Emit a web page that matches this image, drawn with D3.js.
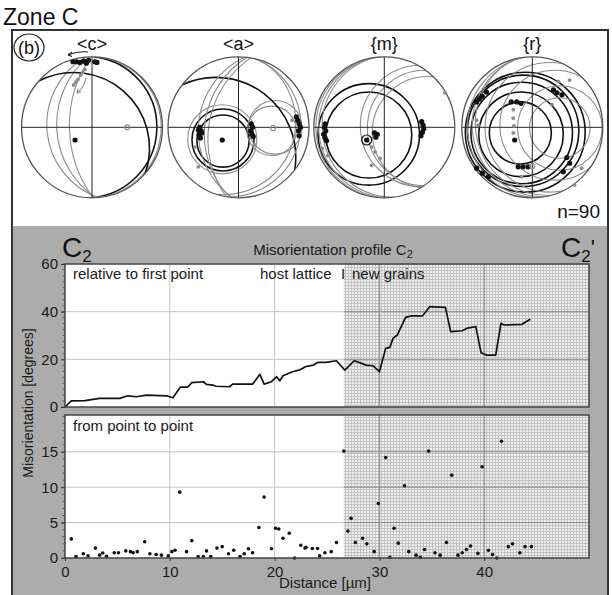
<!DOCTYPE html>
<html><head><meta charset="utf-8">
<script src="https://cdn.jsdelivr.net/npm/d3@7"></script>
<style>
html,body{margin:0;padding:0;background:#fff;}
svg{display:block;font-family:"Liberation Sans",Arial,sans-serif;}
</style></head>
<body>
<svg id="chart" width="612" height="595"></svg>
<script>
// ---------- DATA ----------
// misorientation relative to first point (distance µm, degrees)
const profDist = [0,0.6,1.9,3.3,5.2,6.0,6.8,7.8,9.7,10.3,11.0,11.7,12.1,13.2,13.5,14.1,14.4,15.7,16.0,17.9,18.6,19.0,19.7,20.2,20.5,20.8,21.7,22.4,23.0,23.7,24.1,24.9,25.9,26.7,27.6,28.3,28.7,29.4,30.0,30.6,31.0,31.3,31.7,32.5,33.0,34.1,34.8,36.3,36.8,37.9,38.4,39.2,39.7,40.2,41.1,41.6,41.9,43.6,44.4];
const profMis  = [0,2.6,2.7,3.6,3.6,4.7,4.3,5.0,4.7,3.9,8.3,8.3,10.2,10.6,9.5,9.2,8.7,8.5,9.6,9.6,13.7,9.6,10.6,12.7,11.0,13.1,14.8,15.6,17.0,17.6,18.7,18.7,19.4,15.5,19.4,18.3,17.6,17.3,14.8,24.6,25.0,28.8,30.2,37.6,38.2,38.2,42.1,41.8,31.6,32.0,33.1,33.7,22.8,21.8,21.8,35.1,34.4,34.7,36.8];
// misorientation from point to point
const ptDist = [0.6,1.05,1.75,2.2,2.9,3.3,3.6,3.96,4.7,5.1,5.8,6.25,6.5,6.9,7.6,8.1,8.7,9.2,9.85,10.2,10.5,10.95,11.6,12.1,12.7,13.2,13.5,13.9,14.5,15.0,15.6,16.1,16.7,17.1,17.5,17.9,18.5,19.0,19.7,20.1,20.4,20.8,21.4,21.9,22.5,22.9,23.0,23.6,24.1,24.3,24.8,25.4,25.9,26.6,27.0,27.3,27.7,28.4,28.8,29.5,29.9,30.6,31.0,31.4,31.8,32.4,32.8,33.5,33.9,34.3,34.7,35.3,35.8,36.4,36.9,37.5,37.9,38.3,38.7,39.4,39.8,40.4,40.8,41.2,41.65,42.3,42.7,43.4,43.9,44.5];
const ptMis  = [2.7,0.2,0.6,0.3,1.4,0.4,0.7,0.25,0.75,0.75,1.0,0.9,0.75,0.9,2.3,0.6,0.5,0.4,0.3,0.9,1.1,9.3,0.9,2.45,0.2,0.2,1.0,0.2,1.4,1.6,0.6,1.1,0.2,0.6,1.3,0.75,4.3,8.6,1.3,4.2,4.1,2.8,3.5,0.0,1.8,1.4,1.5,1.35,1.35,0.3,0.75,0.9,2.2,15.1,3.8,5.6,2.2,2.8,2.0,0.9,7.7,14.2,0.1,4.2,2.1,10.2,0.9,0.4,0.1,1.2,15.1,0.75,0.4,2.2,11.7,0.4,0.75,1.2,1.7,0.65,12.9,1.1,0.5,0.0,16.5,1.6,2.0,0.75,1.6,1.6];
const newGrainStart = 26.6;
const xTicks = [0,10,20,30,40];
const yTicksTop = [0,20,40,60];
const yTicksBot = [0,5,10,15];

// pole figures (unit-circle coordinates)
const netLabels = ["<c>","<a>","{m}","{r}"];
// great circles: [strike angle deg, signed bulge, colour]
const gcC = [[-88,0.92,"k"],[-86,0.98,"g"],[-95,-0.64,"g"],[-93,-0.5,"g"],[-91,-0.32,"g"],[-139,0.68,"k"]];
const gcA = [[-143,0.6,"k"],[-85,-0.57,"g"],[-83,-0.48,"g"],[-80,-0.42,"g"],[-78,0.88,"g"],[-72,0.8,"g"]];
const gcM = [[-95,-0.93,"g"],[-98,-0.88,"g"],[-92,-0.97,"g"]];
const gcR = [[-100,-0.85,"g"],[-95,-0.92,"g"],[-105,-0.8,"g"]];
// small circles: [cx, cy, r, colour]
const scC = [];
const scA = [[-0.22,0.18,0.44,"k"],[-0.22,0.195,0.37,"k"],[-0.23,0.17,0.49,"g"],[0.52,0.0,0.38,"g"],[0.47,0.05,0.35,"g"]];
const scM = [[-0.22,0.1,0.72,"k"],[-0.22,0.11,0.61,"k"],[0.58,0.01,0.82,"g"],[0.62,0.07,0.79,"g"],[0.52,-0.02,0.86,"g"]];
const scR = [[-0.17,0.08,0.44,"k"],[-0.16,0.1,0.6,"k"],[-0.15,0.08,0.72,"k"],[-0.13,0.05,0.79,"k"],[-0.1,0.07,0.85,"k"],[0.39,0.01,0.43,"g"],[0.39,0.01,0.6,"g"],[0.32,-0.03,0.78,"g"],[0.25,0.0,0.92,"g"]];
// points: [x, y, colour]
const ptC = [[-0.27,-0.93,"k"],[-0.22,-0.93,"k"],[-0.17,-0.92,"k"],[-0.12,-0.94,"k"],[-0.08,-0.91,"k"],[-0.05,-0.95,"k"],[0.04,-0.93,"k"],[0.07,-0.92,"k"],[-0.1,-0.82,"g"],[-0.13,-0.78,"g"],[-0.16,-0.74,"g"],[-0.2,-0.68,"g"],[-0.23,-0.64,"g"],[-0.26,-0.6,"g"],[-0.24,0.18,"k"]];
const ptA = [[-0.23,0.18,"k"],[-0.55,0.0,"k"],[-0.53,0.05,"k"],[-0.56,0.1,"k"],[-0.54,0.15,"k"],[-0.52,0.08,"k"],[-0.57,0.04,"k"],[0.18,-0.05,"k"],[0.2,0.0,"k"],[0.17,0.05,"k"],[0.19,0.1,"k"],[0.21,0.13,"k"],[0.82,-0.15,"k"],[0.84,-0.1,"k"],[0.86,-0.05,"k"],[0.88,0.0,"k"],[0.85,0.05,"k"],[0.86,0.12,"k"],[-0.62,0.28,"g"],[-0.57,0.56,"g"],[0.23,0.25,"g"],[0.76,-0.1,"g"]];
const ptM = [[-0.84,-0.05,"k"],[-0.85,0.0,"k"],[-0.83,0.05,"k"],[-0.86,0.1,"k"],[-0.84,0.15,"k"],[-0.82,0.19,"k"],[0.53,-0.08,"k"],[0.55,-0.03,"k"],[0.56,0.02,"k"],[0.54,0.07,"k"],[0.52,0.12,"k"],[-0.14,0.08,"k"],[-0.1,0.1,"k"],[-0.12,0.14,"k"],[-0.25,0.18,"k"],[-0.18,0.28,"g"],[-0.13,0.35,"g"],[-0.06,0.44,"g"],[-0.18,0.54,"g"],[0.86,-0.49,"g"],[-0.88,0.3,"g"],[-0.8,0.4,"g"]];
const ptR = [[-0.65,-0.5,"k"],[-0.71,-0.44,"k"],[-0.79,-0.36,"k"],[-0.75,-0.4,"k"],[-0.22,-0.36,"k"],[-0.16,-0.34,"k"],[-0.3,-0.36,"k"],[0.3,-0.53,"k"],[0.35,-0.49,"k"],[0.42,-0.46,"k"],[0.53,0.51,"k"],[0.49,0.43,"k"],[0.44,0.63,"k"],[-0.2,0.56,"k"],[-0.13,0.56,"k"],[-0.06,0.56,"k"],[-0.62,0.7,"k"],[-0.71,0.65,"k"],[-0.79,0.58,"k"],[-0.25,0.18,"k"],[-0.27,-0.25,"g"],[-0.27,-0.13,"g"],[-0.26,-0.02,"g"],[-0.27,0.08,"g"],[0.28,-0.32,"g"],[0.37,-0.65,"g"],[0.53,-0.67,"g"],[0.6,0.82,"g"],[0.7,0.58,"g"],[-0.15,0.7,"g"],[-0.79,-0.1,"g"],[-0.77,-0.03,"g"]];
// open markers: [x, y, r(px), colour]
const mkC = [[0.5,0.0,2.5,"g"]];
const mkA = [[0.49,0.01,2.5,"g"]];
const mkM = [[-0.25,0.18,5,"k"]];
const mkR = [[0.0,0.55,2.5,"g"]];

// ---------- DRAW ----------
const svg = d3.select("#chart");
const FONT = "Liberation Sans, Arial, sans-serif";
const col = c => c === "k" ? "#111" : "#8c8c8c";

// defs: fine hatch pattern
const defs = svg.append("defs");
const pat = defs.append("pattern").attr("id","hatch").attr("patternUnits","userSpaceOnUse")
  .attr("width",3).attr("height",3);
pat.append("rect").attr("width",3).attr("height",3).attr("fill","#efefef");
pat.append("rect").attr("width",3).attr("height",1).attr("fill","#c2c2c2");
pat.append("rect").attr("width",1).attr("height",3).attr("fill","#c2c2c2");

// Zone C
svg.append("text").attr("x",3).attr("y",25).attr("font-size",23).attr("fill","#111").text("Zone C");

// frame
svg.append("rect").attr("x",12).attr("y",30).attr("width",596).attr("height",196).attr("fill","#fff");
svg.append("rect").attr("x",12).attr("y",226).attr("width",596).attr("height",372).attr("fill","#acacac");
svg.append("rect").attr("x",12).attr("y",30).attr("width",596).attr("height",568).attr("fill","none")
  .attr("stroke","#333").attr("stroke-width",2);

// (b)
svg.append("ellipse").attr("cx",29).attr("cy",47.5).attr("rx",15).attr("ry",13.5)
  .attr("fill","none").attr("stroke","#222").attr("stroke-width",1.2);
svg.append("text").attr("x",29).attr("y",54).attr("text-anchor","middle").attr("font-size",18).attr("fill","#111").text("(b)");

// pole figures
const nets = [
  {cx:92, gc:gcC, sc:scC, pt:ptC, mk:mkC},
  {cx:238.5, gc:gcA, sc:scA, pt:ptA, mk:mkA},
  {cx:384.3, gc:gcM, sc:scM, pt:ptM, mk:mkM},
  {cx:532.3, gc:gcR, sc:scR, pt:ptR, mk:mkR}
];
const NCY = 127.3, NR = 70.5;
nets.forEach((n, i) => {
  const cx = n.cx, cy = NCY, R = NR;
  const cid = "clip" + i;
  defs.append("clipPath").attr("id",cid).append("circle").attr("cx",cx).attr("cy",cy).attr("r",R);
  const g = svg.append("g");
  g.append("circle").attr("cx",cx).attr("cy",cy).attr("r",R).attr("fill","#fff");
  const inner = g.append("g").attr("clip-path","url(#"+cid+")");
  inner.selectAll("circle.sc").data(n.sc).join("circle").attr("class","sc")
    .attr("cx",d=>cx+d[0]*R).attr("cy",d=>cy+d[1]*R).attr("r",d=>d[2]*R)
    .attr("fill","none").attr("stroke",d=>col(d[3])).attr("stroke-width",d=>d[3]==="k"?1.6:1.1);
  inner.selectAll("path.gc").data(n.gc).join("path").attr("class","gc")
    .attr("d", d => {
      const a = d[0]*Math.PI/180, h = d[1];
      const x1 = cx + R*Math.cos(a), y1 = cy + R*Math.sin(a);
      const x2 = cx - R*Math.cos(a), y2 = cy - R*Math.sin(a);
      const rho = R*(1+h*h)/(2*Math.abs(h));
      return `M${x1},${y1}A${rho},${rho} 0 0 ${h>0?1:0} ${x2},${y2}`;
    })
    .attr("fill","none").attr("stroke",d=>col(d[2])).attr("stroke-width",d=>d[2]==="k"?1.6:1.1);
  g.append("line").attr("x1",cx-R).attr("x2",cx+R).attr("y1",cy).attr("y2",cy).attr("stroke","#222").attr("stroke-width",1);
  g.append("line").attr("x1",cx).attr("x2",cx).attr("y1",cy-R).attr("y2",cy+R).attr("stroke","#222").attr("stroke-width",1);
  g.append("circle").attr("cx",cx).attr("cy",cy).attr("r",R).attr("fill","none").attr("stroke","#555").attr("stroke-width",1.3);
  g.selectAll("circle.pt").data(n.pt).join("circle").attr("class","pt")
    .attr("cx",d=>cx+d[0]*R).attr("cy",d=>cy+d[1]*R).attr("r",d=>d[2]==="k"?2.6:1.9)
    .attr("fill",d=>col(d[2]));
  g.selectAll("circle.mk").data(n.mk).join("circle").attr("class","mk")
    .attr("cx",d=>cx+d[0]*R).attr("cy",d=>cy+d[1]*R).attr("r",d=>d[2])
    .attr("fill","none").attr("stroke",d=>col(d[3])).attr("stroke-width",1.2);
  g.append("text").attr("x",cx).attr("y",50).attr("text-anchor","middle").attr("font-size",18).attr("fill","#111").text(netLabels[i]);
});
// arrows on <c>
const arr = svg.append("g").attr("fill","none").attr("stroke-width",1.1);
arr.append("path").attr("d","M88,52 Q78,51 68,55").attr("stroke","#222");
arr.append("path").attr("d","M68,55 l4,-3 M68,55 l4,1.5").attr("stroke","#222");
arr.append("path").attr("d","M86,78 Q84,88 77,93").attr("stroke","#888");
arr.append("path").attr("d","M77,93 l1,-4 M77,93 l4,-1").attr("stroke","#888");

svg.append("text").attr("x",600).attr("y",218).attr("text-anchor","end").attr("font-size",19).attr("fill","#111").text("n=90");

// ---------- PROFILE PLOTS ----------
const x = d3.scaleLinear().domain([0,50]).range([65,589]);
const yT = d3.scaleLinear().domain([0,60]).range([407,264]);
const yB = d3.scaleLinear().domain([0,20.2]).range([558,415]);

function panel(y, yTicks, minorStep, gridVals) {
  const g = svg.append("g");
  const [y0, y1] = y.range();
  g.append("rect").attr("x",x(0)).attr("y",y1).attr("width",x(50)-x(0)).attr("height",y0-y1).attr("fill","#fff");
  g.append("rect").attr("x",x(newGrainStart)).attr("y",y1).attr("width",x(50)-x(newGrainStart)).attr("height",y0-y1).attr("fill","url(#hatch)");
  g.selectAll("line.vg").data(xTicks.slice(1)).join("line").attr("class","vg")
    .attr("x1",d=>x(d)).attr("x2",d=>x(d)).attr("y1",y1).attr("y2",y0)
    .attr("stroke",d=>d>newGrainStart?"#8a8a8a":"#c4c4c4").attr("stroke-width",1);
  g.selectAll("line.hg").data(gridVals).join("line").attr("class","hg")
    .attr("x1",x(0)).attr("x2",x(newGrainStart)).attr("y1",d=>y(d)).attr("y2",d=>y(d))
    .attr("stroke","#c4c4c4").attr("stroke-width",1);
  g.selectAll("line.hg2").data(gridVals).join("line").attr("class","hg2")
    .attr("x1",x(newGrainStart)).attr("x2",x(50)).attr("y1",d=>y(d)).attr("y2",d=>y(d))
    .attr("stroke","#8a8a8a").attr("stroke-width",1);
  const ax = g.append("g").attr("transform",`translate(${x(0)},0)`)
    .call(d3.axisLeft(y).tickValues(yTicks).tickSize(4).tickPadding(3).tickFormat(d3.format("d")));
  ax.select(".domain").remove();
  ax.selectAll("text").attr("font-size",15).attr("font-family",FONT).attr("fill","#1a1a1a");
  ax.selectAll("line").attr("stroke","#333");
  const minor = d3.range(0, y.domain()[1]+0.001, minorStep);
  g.selectAll("line.mn").data(minor).join("line").attr("class","mn")
    .attr("x1",x(0)-2.5).attr("x2",x(0)).attr("y1",d=>y(d)).attr("y2",d=>y(d)).attr("stroke","#444").attr("stroke-width",0.8);
  return g;
}
const gT = panel(yT, yTicksTop, 2.5, [20,40]);
const gB = panel(yB, yTicksBot, 1, [5,10,15]);

gT.append("path").datum(d3.zip(profDist, profMis))
  .attr("d", d3.line().x(d=>x(d[0])).y(d=>yT(d[1])))
  .attr("fill","none").attr("stroke","#111").attr("stroke-width",1.7).attr("stroke-linejoin","round");
gB.selectAll("circle.dot").data(d3.zip(ptDist, ptMis)).join("circle").attr("class","dot")
  .attr("cx",d=>x(d[0])).attr("cy",d=>yB(d[1])).attr("r",1.8).attr("fill","#111");

[yT,yB].forEach(y => {
  const [y0,y1] = y.range();
  svg.append("rect").attr("x",x(0)).attr("y",y1).attr("width",x(50)-x(0)).attr("height",y0-y1)
    .attr("fill","none").attr("stroke","#444").attr("stroke-width",1.5);
});

const xa = svg.append("g").attr("transform",`translate(0,${yB(0)})`)
  .call(d3.axisBottom(x).tickValues(xTicks).tickSize(3).tickPadding(5).tickFormat(d3.format("d")));
xa.select(".domain").remove();
xa.selectAll("text").attr("font-size",15).attr("font-family",FONT).attr("fill","#1a1a1a");
xa.selectAll("line").attr("stroke","#333");

const T = (xx, yy, s, size, anchor) => svg.append("text").attr("x",xx).attr("y",yy)
  .attr("font-size",size).attr("text-anchor",anchor||"start").attr("fill","#1a1a1a").text(s);
T(73, 279, "relative to first point", 15);
T(260, 279, "host lattice", 15);
T(341, 279, "I", 15);
T(352, 279, "new grains", 15);
T(73, 431, "from point to point", 15);
T(325, 588, "Distance [µm]", 15, "middle");
svg.append("text").attr("transform","translate(33,403) rotate(-90)").attr("text-anchor","middle")
  .attr("font-size",14).attr("fill","#1a1a1a").text("Misorientation [degrees]");

const title = svg.append("text").attr("x",333).attr("y",255).attr("text-anchor","middle").attr("font-size",15).attr("fill","#1a1a1a");
title.append("tspan").text("Misorientation profile C");
title.append("tspan").attr("font-size",11).attr("dy",3).text("2");

const cl = svg.append("text").attr("x",62).attr("y",257).attr("font-size",28).attr("fill","#111");
cl.append("tspan").text("C");
cl.append("tspan").attr("font-size",17).attr("dy",5).text("2");
const cr = svg.append("text").attr("x",561).attr("y",257).attr("font-size",28).attr("fill","#111");
cr.append("tspan").text("C");
cr.append("tspan").attr("font-size",17).attr("dy",5).text("2");
cr.append("tspan").attr("font-size",22).attr("dy",-7).text("'");
</script>
</body></html>
